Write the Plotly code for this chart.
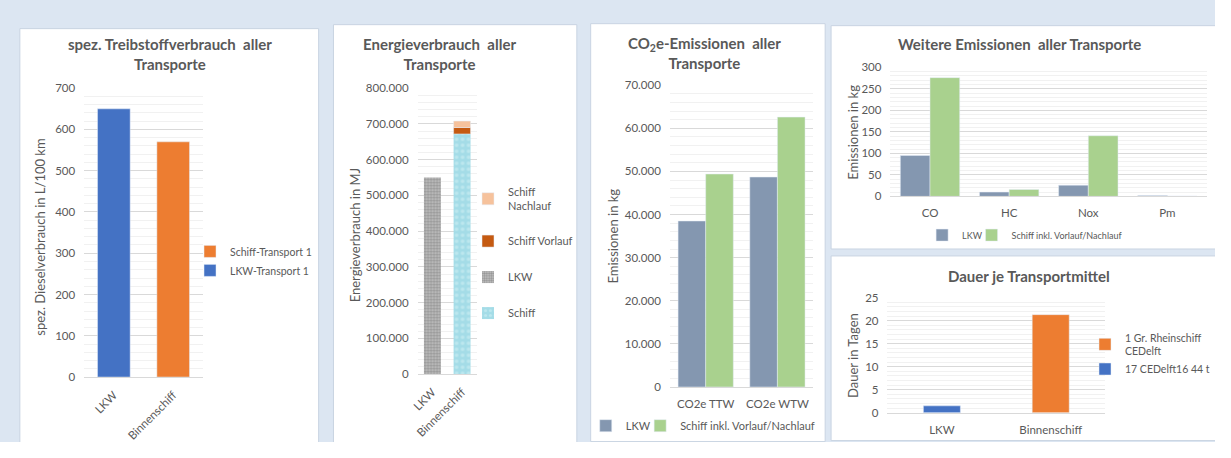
import plotly.graph_objects as go

# --- spez. Treibstoffverbrauch (L/100 km) ---
fuel_categories = ["LKW", "Binnenschiff"]
fuel_series = ["LKW-Transport 1", "Schiff-Transport 1"]
fuel_values = [650, 570]

# --- Energieverbrauch (MJ) ---
energy_categories = ["LKW", "Binnenschiff"]
energy_lkw = 550000
energy_schiff = 672000
energy_vorlauf = 18000
energy_nachlauf = 18000

# --- CO2e-Emissionen (kg) ---
co2_categories = ["CO2e TTW", "CO2e WTW"]
co2_lkw = [38500, 48700]
co2_schiff = [49400, 62600]

# --- Weitere Emissionen (kg) ---
em_categories = ["CO", "HC", "Nox", "Pm"]
em_lkw = [95, 10, 26, 2]
em_schiff = [276, 16, 141, 1]

# --- Dauer je Transportmittel (Tage) ---
dur_categories = ["LKW", "Binnenschiff"]
dur_series = ["17 CEDelft16 44 t", "1 Gr. Rheinschiff<br>CEDelft"]
dur_values = [1.5, 21.3]

W, H = 1215, 442
# vertical placement of the figure on the page
Y_OFFSET, Y_SCALE = 6.2, 0.971
FONT = "Lato"
TXT = "#595959"
GRID = "#D9D9D9"
MINOR = "#F1F1F1"
BLUE = "#4472C4"
ORANGE = "#ED7D31"
GREYBLUE = "#8497B0"
GREEN = "#A9D18E"
SERIES_SCHIFF = "Schiff inkl. Vorlauf/Nachlauf"


def fx(v):
    """page pixel x -> paper fraction"""
    return v / W


def fy(v):
    """page pixel y (from top) -> paper fraction"""
    return 1 - ((v - Y_OFFSET) / Y_SCALE) / H


fig = go.Figure()

# panel 1
fig.add_trace(go.Bar(x=[fuel_categories[0]], y=[fuel_values[0]], name=fuel_series[0],
                     marker_color=BLUE, width=0.55, xaxis="x", yaxis="y", legend="legend"))
fig.add_trace(go.Bar(x=[fuel_categories[1]], y=[fuel_values[1]], name=fuel_series[1],
                     marker_color=ORANGE, width=0.55, xaxis="x", yaxis="y", legend="legend"))

# panel 2 (stacked via explicit base)
fig.add_trace(go.Bar(x=[energy_categories[1]], y=[energy_schiff], name="Schiff", width=0.57,
                     marker=dict(color="#A8DEE8", line_width=0,
                                 pattern=dict(shape=".", fgcolor="#D6F1F5", bgcolor="#A4DCE7",
                                              size=6, solidity=0.3, fillmode="overlay")),
                     xaxis="x2", yaxis="y2", legend="legend2", legendrank=4, legendgroup="s"))
fig.add_trace(go.Bar(x=[energy_categories[0]], y=[energy_lkw], name="LKW", width=0.57,
                     marker=dict(color="#B5B5B5", line_width=0,
                                 pattern=dict(shape=".", fgcolor="#666666", bgcolor="#C2C2C2",
                                              size=3, solidity=0.5, fillmode="overlay")),
                     xaxis="x2", yaxis="y2", legend="legend2", legendrank=3, legendgroup="l"))
fig.add_trace(go.Bar(x=[energy_categories[1]], y=[energy_vorlauf], base=[energy_schiff],
                     name="Schiff Vorlauf", width=0.57, marker_color="#C55A11",
                     xaxis="x2", yaxis="y2", legend="legend2", legendrank=2, legendgroup="v"))
fig.add_trace(go.Bar(x=[energy_categories[1]], y=[energy_nachlauf],
                     base=[energy_schiff + energy_vorlauf],
                     name="Schiff<br>Nachlauf", width=0.57, marker_color="#F6C29C",
                     xaxis="x2", yaxis="y2", legend="legend2", legendrank=1, legendgroup="n"))

# panel 3 (grouped via offsets)
fig.add_trace(go.Bar(x=co2_categories, y=co2_lkw, name="LKW", marker_color=GREYBLUE,
                     width=0.385, offset=-0.385, xaxis="x3", yaxis="y3", legend="legend3"))
fig.add_trace(go.Bar(x=co2_categories, y=co2_schiff, name=SERIES_SCHIFF,
                     marker_color=GREEN, width=0.385, offset=0, xaxis="x3", yaxis="y3",
                     legend="legend6"))

# panel 4
fig.add_trace(go.Bar(x=em_categories, y=em_lkw, name="LKW", marker_color=GREYBLUE,
                     width=0.375, offset=-0.375, xaxis="x4", yaxis="y4", legend="legend4"))
fig.add_trace(go.Bar(x=em_categories, y=em_schiff, name=SERIES_SCHIFF,
                     marker_color=GREEN, width=0.375, offset=0, xaxis="x4", yaxis="y4",
                     legend="legend7"))

# panel 5
fig.add_trace(go.Bar(x=[dur_categories[0]], y=[dur_values[0]], name=dur_series[0],
                     marker_color=BLUE, width=0.34, xaxis="x5", yaxis="y5", legend="legend5"))
fig.add_trace(go.Bar(x=[dur_categories[1]], y=[dur_values[1]], name=dur_series[1],
                     marker_color=ORANGE, width=0.34, xaxis="x5", yaxis="y5", legend="legend5"))

fig.update_traces(hoverinfo="skip")


def xax(dom, cats, anchor, angle=0):
    return dict(domain=[fx(dom[0]), fx(dom[1])], anchor=anchor, type="category",
                categoryorder="array", categoryarray=cats, range=[-0.5, len(cats) - 0.5],
                showgrid=False, showline=True, linecolor=GRID, linewidth=1, ticks="",
                tickangle=angle, tickfont=dict(size=11.5, color=TXT), ticklabelstandoff=6,
                zeroline=False, fixedrange=True)


def yax(dom, anchor, rng, dtick, fmt=None):
    d = dict(domain=[fy(dom[1]), fy(dom[0])], anchor=anchor, range=rng, dtick=dtick,
             tick0=0, showgrid=True, gridcolor=GRID, gridwidth=1, zeroline=False,
             showline=False, ticks="", tickfont=dict(size=11.5, color=TXT),
             ticklabelstandoff=8, fixedrange=True,
             minor=dict(dtick=dtick / 5, showgrid=True, gridcolor=MINOR, ticks=""))
    if fmt:
        d["tickformat"] = fmt
    return d


panels = [(13, 28, 315, 446), (330, 24, 576, 446), (590, 23, 827, 444),
          (833, 25, 1236, 250), (833, 257, 1236, 443)]
shapes = [dict(type="rect", xref="paper", yref="paper", x0=fx(a), x1=fx(c), y0=fy(d), y1=fy(b),
               fillcolor="white", line=dict(color="#C9D4E2", width=1), layer="below")
          for a, b, c, d in panels]

title_font = dict(family=FONT, size=15, color=TXT, weight="bold")
axis_font = dict(family=FONT, size=13, color=TXT)


def ann(text, x, y, font, angle=0, align="center"):
    return dict(text=text, x=fx(x), y=fy(y), xref="paper", yref="paper", showarrow=False,
                font=font, textangle=angle, xanchor="center", yanchor="middle", align=align)


annotations = [
    ann("spez. Treibstoffverbrauch  aller<br>Transporte", 165, 54, title_font),
    ann("Energieverbrauch  aller<br>Transporte", 437, 54, title_font),
    ann("CO<sub>2</sub>e-Emissionen  aller<br>Transporte", 705, 53, title_font),
    ann("Weitere Emissionen  aller Transporte", 1023, 43, title_font),
    ann("Dauer je Transportmittel", 1033, 277, title_font),
    ann("spez. Dieselverbrauch in L/100 km", 33, 238, axis_font, -90),
    ann("Energieverbrauch in MJ", 352, 236, axis_font, -90),
    ann("Emissionen in kg", 613, 237, axis_font, -90),
    ann("Emissionen in kg", 855, 132, axis_font, -90),
    ann("Dauer in Tagen", 855, 357, axis_font, -90),
]

leg_font = dict(family=FONT, size=11, color=TXT)
clear = "rgba(0,0,0,0)"


def legend_at(x0, yc, font, **kw):
    return dict(x=fx(x0), y=fy(yc), xanchor="left", yanchor="middle", font=font,
                bgcolor=clear, **kw)


fig.update_layout(
    width=W, height=H, margin=dict(l=0, r=0, t=0, b=0),
    paper_bgcolor="#DCE6F2", plot_bgcolor="white",
    barmode="overlay", separators=",.",
    font=dict(family=FONT, color=TXT),
    xaxis=xax((78, 198), fuel_categories, "y", -45),
    yaxis=yax((88, 379), "x", [0, 700], 100),
    xaxis2=xax((415, 475), energy_categories, "y2", -45),
    yaxis2=yax((88, 376), "x2", [0, 800000], 100000, ",d"),
    xaxis3=xax((670, 815), co2_categories, "y3"),
    yaxis3=yax((85, 389), "x3", [0, 70000], 10000, ",d"),
    xaxis4=xax((893, 1213), em_categories, "y4"),
    yaxis4=yax((67, 197), "x4", [0, 300], 50),
    xaxis5=xax((890, 1110), dur_categories, "y5"),
    yaxis5=yax((299, 415), "x5", [0, 25], 5),
    legend=legend_at(185, 262, dict(family=FONT, size=10.5, color=TXT), traceorder="reversed"),
    legend2=legend_at(466, 254, leg_font, traceorder="grouped", tracegroupgap=17),
    legend3=legend_at(585, 428, leg_font, orientation="h"),
    legend6=legend_at(640, 428, leg_font, orientation="h"),
    legend4=legend_at(925, 236, dict(family=FONT, size=9, color=TXT), orientation="h"),
    legend7=legend_at(975, 236, dict(family=FONT, size=9, color=TXT), orientation="h"),
    legend5=legend_at(1090, 356, dict(family=FONT, size=10.5, color=TXT), traceorder="reversed"),
    shapes=shapes,
    annotations=annotations,
    showlegend=True,
)

fig.write_html("out.html")
